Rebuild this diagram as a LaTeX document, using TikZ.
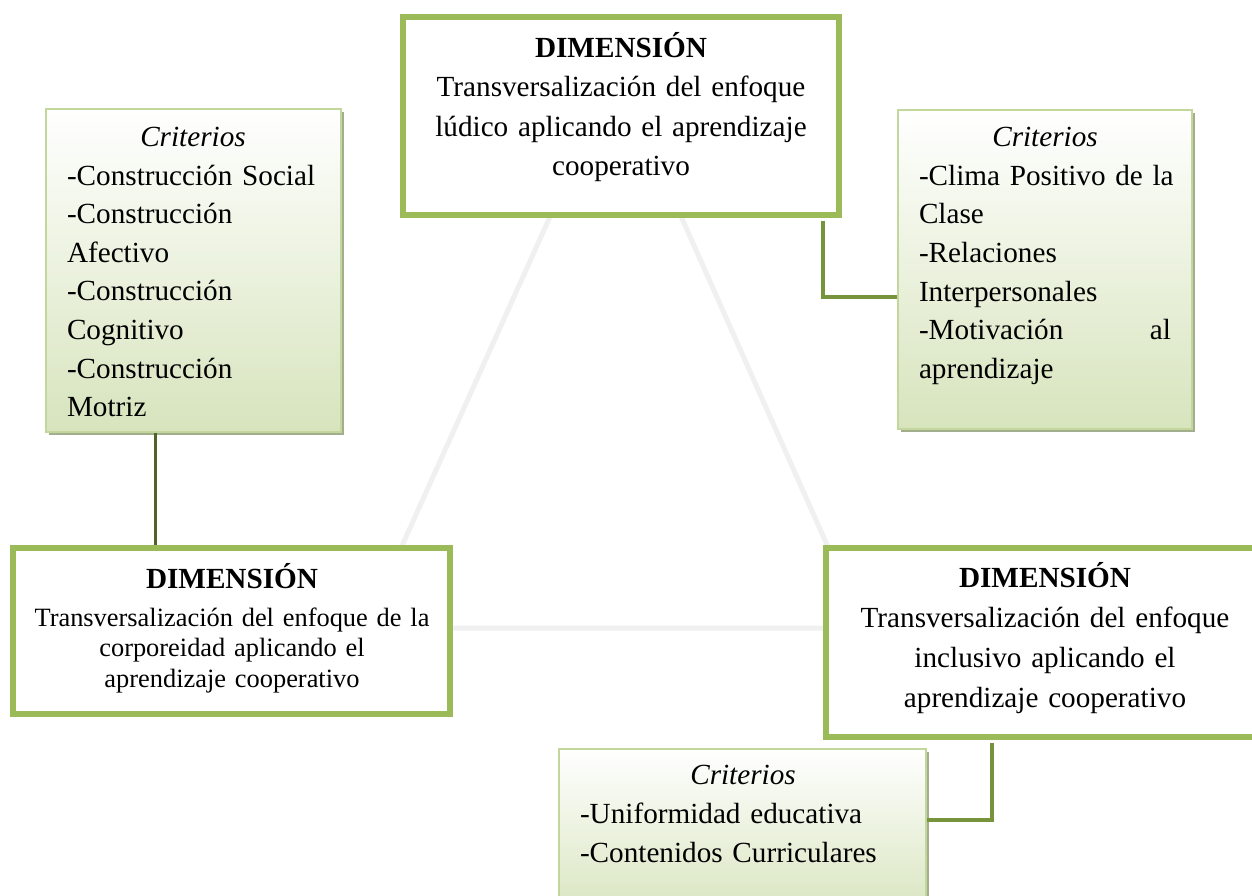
\documentclass[tikz,border=0pt]{standalone}
\usepackage{fontspec}
\setmainfont{Liberation Serif}
\usetikzlibrary{shadows}

\definecolor{dimgreen}{HTML}{9BBB59}
\definecolor{crborder}{HTML}{C3D69B}
\definecolor{crbottom}{HTML}{D7E4BD}
\definecolor{crshadow}{HTML}{A3AE8E}
\definecolor{linkgreen}{HTML}{77933C}
\definecolor{linkdark}{HTML}{4F6228}
\definecolor{trigray}{HTML}{F0F0F0}

\tikzset{
	dimbox/.style={draw=dimgreen, line width=3pt, fill=white, inner sep=0pt},
	critbox/.style={draw=crborder, line width=1pt, top color=white, bottom color=crbottom, inner sep=0pt,
		drop shadow={shadow xshift=1.5pt, shadow yshift=-1.5pt, fill=crshadow, opacity=1}},
	dimtext/.style={text width=#1, align=center, inner sep=0pt, font=\fontsize{14.6}{19.75}\selectfont},
	crtext/.style={text width=#1, align=left, inner sep=0pt, font=\fontsize{14.6}{19.3}\selectfont},
	link/.style={draw=linkgreen, line width=2pt},
	linkthin/.style={draw=linkdark, line width=1.5pt}
}

\begin{document}
\begin{tikzpicture}[x=0.5pt, y=-0.5pt]

	\useasboundingbox (0,0) rectangle (1252,895);
	\clip (0,0) rectangle (1252,895);

	% Dreieck
	\draw[trigray, line width=2.5pt] (616,70) -- (365,628) -- (864,628) -- cycle;

	% Kriterien
	\node[critbox, minimum width=147.5pt, minimum height=161.5pt] (crLeft) at (193.5,270.5) {};
	\node[critbox, minimum width=147pt, minimum height=159.5pt] (crRight) at (1045,269.5) {};
	\node[critbox, minimum width=183.5pt, minimum height=86pt] (crBottom) at (742.5,835) {};

	% Dimensionen
	\node[dimbox, minimum width=218pt, minimum height=99pt] (dimTop) at (621,116) {};
	\node[dimbox, minimum width=218.5pt, minimum height=83pt] (dimLeft) at (231.5,631) {};
	\node[dimbox, minimum width=218.5pt, minimum height=94.5pt] (dimRight) at (1044.5,642.5) {};

	% Verbindungen
	\draw[linkthin] ([xshift=-19pt]crLeft.south) -- ([xshift=-19pt]crLeft.south |- dimLeft.north);
	\draw[link, shorten <=1.5pt] ([xshift=-9.5pt]dimTop.south east) |- ([yshift=-13.5pt]crRight.west);
	\draw[link, shorten <=1.5pt] ([xshift=84.5pt]dimRight.south west) |- ([yshift=-36pt]crBottom.north east);

	% Texte
	\node[dimtext=210pt] (dimTopTxt) at (621,107) {\textbf{DIMENSIÓN}\\
		Transversalización del enfoque\\
		lúdico aplicando el aprendizaje\\
		cooperativo};
	\node[dimtext=210pt, font=\fontsize{13.2}{15.25}\selectfont] (dimLeftTxt) at (232,628)
		{{\fontsize{14.6}{15.25}\selectfont\textbf{DIMENSIÓN}}\\[3.75pt]
		Transversalización del enfoque de la\\
		corporeidad aplicando el\\
		aprendizaje cooperativo};
	\node[dimtext=210pt, font=\fontsize{14.6}{20}\selectfont] (dimRightTxt) at (1045,638) {\textbf{DIMENSIÓN}\\
		Transversalización del enfoque\\
		inclusivo aplicando el\\
		aprendizaje cooperativo};

	\node[crtext=126pt] (crLeftTxt) at (193,272) {\makebox[126pt]{\textit{Criterios}}\\
		-Construcción Social\\
		-Construcción\\
		Afectivo\\
		-Construcción\\
		Cognitivo\\
		-Construcción\\
		Motriz};
	\node[crtext=126pt] (crRightTxt) at (1045,256) {\makebox[126pt]{\textit{Criterios}}\\
		\makebox[126pt][s]{-Clima Positivo de la}\\
		Clase\\
		-Relaciones\\
		Interpersonales\\
		\makebox[126pt][l]{-Motivación\hfill al}\\
		aprendizaje};
	\node[crtext=163pt] (crBottomTxt) at (743,814) {\makebox[163pt]{\textit{Criterios}}\\
		-Uniformidad educativa\\
		-Contenidos Curriculares};

\end{tikzpicture}
\end{document}
